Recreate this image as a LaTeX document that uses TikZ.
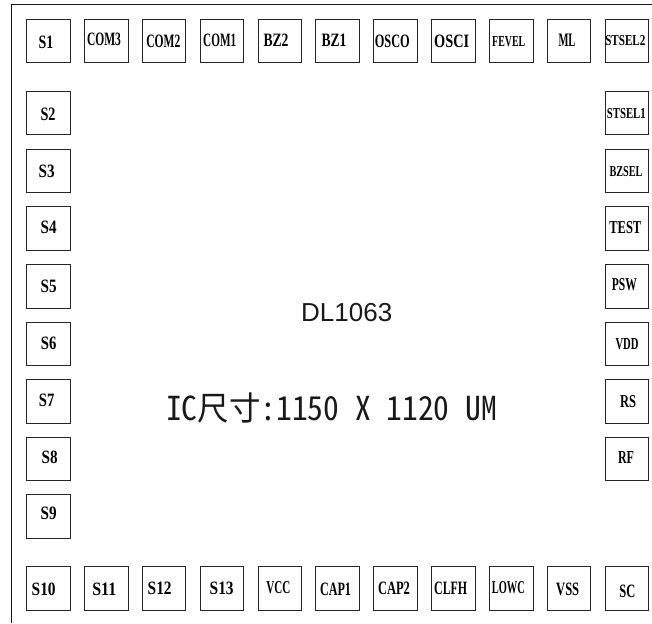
\documentclass[tikz,border=0pt]{standalone}
\usepackage{fontspec}
\usepackage{graphicx}
\setmainfont{Liberation Serif}
\newfontfamily\labelsans{Liberation Sans}
\newfontfamily\cjksans[RawFeature=+hwid]{Noto Sans CJK SC}
\tikzset{
  x=1pt,y=-1pt,
  chipframe/.style={draw=black!90,line width=1.3pt},
  padbox/.style={draw=black!85,line width=1.1pt,minimum width=43.5pt,minimum height=43.5pt,inner sep=0pt,anchor=north west},
  padtext/.style={inner sep=0pt,text=black},
  bigtext/.style={inner sep=0pt,text=black!90},
}
\begin{document}
\begin{tikzpicture}
\useasboundingbox (0,0) rectangle (652,623);
\fill[white] (0,0) rectangle (652,623);
\coordinate (fa) at (11.5,623);
\coordinate (fb) at (11.5,4.5);
\coordinate (fc) at (652,4.5);
\draw[chipframe] (fa) -- (fb) -- (fc);
\foreach \t/\x/\y/\lx/\ly/\w/\h in {
 S1/26/18.7/46/42/14.7/12.5,
 COM3/84/18.7/104/39.5/34/12.5,
 COM2/141.5/18.7/163.3/41/34/12.5,
 COM1/199.5/18.7/219.7/40/33/12.5,
 BZ2/257.5/18.7/276/40/25/12.5,
 BZ1/315/18.7/334/40/25/12.5,
 OSCO/373/18.7/392.3/41/35/12.5,
 OSCI/431/18.7/451.7/41/35/12.5,
 FEVEL/489/18.7/508.7/42/33/10,
 ML/546.5/18.7/567/40/17/12.5,
 STSEL2/604.7/18.7/625.3/40.7/40/10,
 S2/26/90.7/48/114.5/15/12.5,
 S3/26/148.7/46.7/171/16/12.5,
 S4/26/206/48.7/227.7/16/12.5,
 S5/26/264/48.7/286/16/12.5,
 S6/26/321.7/48.7/343/15.5/12.5,
 S7/26/379/46.7/400.7/15.5/12.5,
 S8/26/436.7/49.7/457/16/12.5,
 S9/26/494.3/48.7/513.3/16/12.5,
 STSEL1/604.7/90.7/626.3/113.7/39/10,
 BZSEL/604.7/148.7/626/171.3/33/10,
 TEST/604.7/206/625.3/228/32/12,
 PSW/604.7/264/624.3/284.7/25/12,
 VDD/604.7/321.7/627/344/23/11,
 RS/604.7/379/628/402/16/12,
 RF/604.7/436.7/626/457/16/12,
 S10/26/566.3/43.7/589.3/24/12.5,
 S11/84/566.3/104.3/589.3/24/12.5,
 S12/141.5/566.3/159.7/588/24/12.5,
 S13/199.5/566.3/221.7/588/24/12.5,
 VCC/257.5/566.3/278.3/588/24/12,
 CAP1/315/566.3/335.5/589/31/12.5,
 CAP2/373/566.3/394/588/32/12.5,
 CLFH/431/566.3/450.7/588/33/12.5,
 LOWC/489/566.3/508.3/588/33/12,
 VSS/546.5/566.3/567.7/589/23/12.5,
 SC/604.7/566.3/627.3/591/16/12.5}
 {\node[padbox] (p\t) at (\x,\y) {};
  \node[padtext] (t\t) at (\lx,\ly) {\resizebox{\w pt}{\h pt}{\bfseries \t}};}
\node[bigtext,font=\labelsans\fontsize{26}{30}\selectfont] (title) at (346.7,312.7) {DL1063};
\node[bigtext,font=\cjksans\fontsize{30}{34}\selectfont] (size) at (331.5,408) {\scalebox{1.05}[1.1]{IC尺寸:1150\hspace{15pt}X\hspace{15pt}1120\hspace{15pt}UM}};
\end{tikzpicture}
\end{document}
